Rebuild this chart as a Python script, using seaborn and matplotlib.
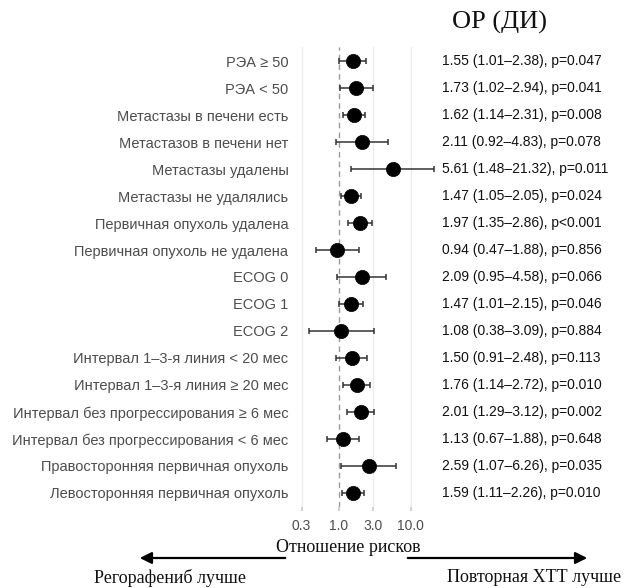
import matplotlib
matplotlib.use("Agg")
import matplotlib.pyplot as plt
import seaborn as sns
import pandas as pd
import numpy as np

labels = [
    "РЭА ≥ 50", "РЭА < 50", "Метастазы в печени есть", "Метастазов в печени нет",
    "Метастазы удалены", "Метастазы не удалялись", "Первичная опухоль удалена",
    "Первичная опухоль не удалена", "ECOG 0", "ECOG 1", "ECOG 2",
    "Интервал 1–3-я линия < 20 мес", "Интервал 1–3-я линия ≥ 20 мес",
    "Интервал без прогрессирования ≥ 6 мес", "Интервал без прогрессирования < 6 мес",
    "Правосторонняя первичная опухоль", "Левосторонняя первичная опухоль",
]
hr = [1.55, 1.73, 1.62, 2.11, 5.61, 1.47, 1.97, 0.94, 2.09, 1.47, 1.08, 1.50, 1.76, 2.01, 1.13, 2.59, 1.59]
lo = [1.01, 1.02, 1.14, 0.92, 1.48, 1.05, 1.35, 0.47, 0.95, 1.01, 0.38, 0.91, 1.14, 1.29, 0.67, 1.07, 1.11]
hi = [2.38, 2.94, 2.31, 4.83, 21.32, 2.05, 2.86, 1.88, 4.58, 2.15, 3.09, 2.48, 2.72, 3.12, 1.88, 6.26, 2.26]
pvals = ["0.047", "0.041", "0.008", "0.078", "0.011", "0.024", "<0.001", "0.856", "0.066",
         "0.046", "0.884", "0.113", "0.010", "0.002", "0.648", "0.035", "0.010"]
xticks = [0.3, 1.0, 3.0, 10.0]
xticklabels = ["0.3", "1.0", "3.0", "10.0"]

df = pd.DataFrame({"label": labels, "hr": hr, "lo": lo, "hi": hi, "p": pvals})
df["row"] = np.arange(len(df))

sns.set_theme(style="white")
plt.rcParams["font.family"] = ["Liberation Sans", "DejaVu Sans"]

W, H = 624, 588
fig = plt.figure(figsize=(W / 100, H / 100), dpi=100)
ax_l, ax_r, ax_t, ax_b = 294, 440, 47, 507
ax = fig.add_axes([ax_l / W, 1 - ax_b / H, (ax_r - ax_l) / W, (ax_b - ax_t) / H])

ax.set_xscale("log")
ax.set_xlim(0.235, 25.7)
ax.set_ylim(16.52, -0.52)

for v in [0.3, 3.0, 10.0]:
    ax.axvline(v, color="#ebebeb", lw=1.0, zorder=0)
ax.axvline(1.0, color="#999999", lw=1.0, ls=(0, (4, 3)), zorder=1)

ax.errorbar(df["hr"], df["row"],
            xerr=[df["hr"] - df["lo"], df["hi"] - df["hr"]],
            fmt="none", ecolor="#333333", elinewidth=1.1, capsize=2.5, capthick=1.1, zorder=2)
sns.scatterplot(data=df, x="hr", y="row", ax=ax, color="black", s=105,
                edgecolor="black", linewidth=0.5, zorder=3, legend=False)

ax.set_yticks(df["row"])
ax.set_yticklabels(df["label"], fontsize=10.5, color="#4d4d4d")
ax.set_xticks(xticks)
ax.set_xticklabels(xticklabels, fontsize=10, color="#4d4d4d")
ax.xaxis.set_minor_locator(matplotlib.ticker.NullLocator())
ax.tick_params(axis="y", length=0, pad=4)
ax.tick_params(axis="x", length=3, color="#cccccc", pad=6, bottom=True)
ax.set_xlabel("")
ax.set_ylabel("")
for s in ax.spines.values():
    s.set_visible(False)

trans = matplotlib.transforms.blended_transform_factory(fig.transFigure, ax.transData)
for _, r in df.iterrows():
    txt = f"{r['hr']:.2f} ({r['lo']:.2f}–{r['hi']:.2f}), p{'' if r['p'].startswith('<') else '='}{r['p']}"
    ax.text(442 / W, r["row"], txt, transform=trans, fontsize=10, color="#111111",
            ha="left", va="center", clip_on=False)

serif = ["Liberation Serif", "DejaVu Serif"]
fig.text(500 / W, 1 - 22 / H, "ОР (ДИ)", family=serif, fontsize=19, ha="center", va="center", color="#111111")
fig.text(348 / W, 1 - 548 / H, "Отношение рисков", family=serif, fontsize=13, ha="center", va="center", color="#111111")
fig.text(170 / W, 1 - 578 / H, "Регорафениб лучше", family=serif, fontsize=13, ha="center", va="center", color="#111111")
fig.text(534 / W, 1 - 578 / H, "Повторная ХТТ лучше", family=serif, fontsize=13, ha="center", va="center", color="#111111")

ya = 1 - 558 / H
fig.add_artist(matplotlib.patches.FancyArrowPatch((288 / W, ya), (137 / W, ya), transform=fig.transFigure,
               arrowstyle="-|>,head_length=7,head_width=3.5", color="black", lw=1.6, mutation_scale=1))
fig.add_artist(matplotlib.patches.FancyArrowPatch((405 / W, ya), (590 / W, ya), transform=fig.transFigure,
               arrowstyle="-|>,head_length=7,head_width=3.5", color="black", lw=1.6, mutation_scale=1))

fig.savefig("out.png", dpi=100, facecolor="white")
